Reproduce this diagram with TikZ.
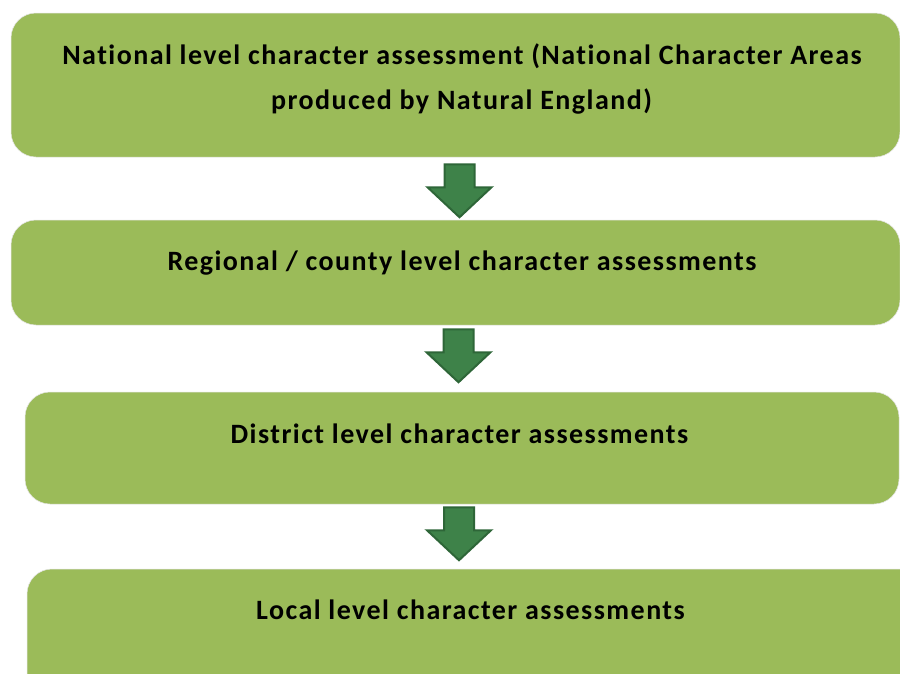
\documentclass[tikz,border=0pt]{standalone}
\usepackage{fontspec}
\setmainfont{Carlito}[Ligatures={NoCommon}, LetterSpace=5.2]
\usetikzlibrary{calc}
\definecolor{boxgreen}{HTML}{9BBB59}
\definecolor{arrowfill}{HTML}{3E8249}
\definecolor{arrowline}{HTML}{2E6638}
\tikzset{
  levelbox/.style={rectangle, rounded corners=25pt, fill=boxgreen, draw=black!10, line width=0.5pt, inner sep=0pt},
  leveltext/.style={anchor=base, font=\bfseries\fontsize{28}{32}\selectfont, text=black, inner sep=0pt},
  blockarrow/.pic={
    \path[fill=arrowfill, draw=arrowline, line width=2pt, line join=miter]
      (-15,0) -- (15,0) -- (15,23) -- (32,23) -- (0,53) -- (-32,23) -- (-15,23) -- cycle;
  }
}
\begin{document}
\begin{tikzpicture}[x=1pt, y=-1pt]
\useasboundingbox (0,0) rectangle (900,673);
\clip (0,0) rectangle (900,673);
\fill[white] (0,0) rectangle (900,673);
% boxes
\node[levelbox, minimum width=889pt, minimum height=144pt] (b1) at (455.5,85) {};
\node[levelbox, minimum width=889pt, minimum height=105pt] (b2) at (455.5,272.5) {};
\node[levelbox, minimum width=874pt, minimum height=112pt] (b3) at (462,448) {};
\node[levelbox, minimum width=903pt, minimum height=140pt] (b4) at (478.5,639) {};
% texts
\node[leveltext] (t1a) at (462,64) {National level character assessment (National Character Areas};
\node[leveltext] (t1b) at (461.5,109) {produced by Natural England)};
\node[leveltext] (t2) at (462,270) {Regional / county level character assessments};
\node[leveltext] (t3) at (459.5,443) {District level character assessments};
\node[leveltext] (t4) at (470.5,619) {Local level character assessments};
% arrows
\coordinate (a1) at ($(b1.south)+(4,7)$);
\coordinate (a2) at ($(b2.south)+(3,4)$);
\coordinate (a3) at ($(b3.south)+(-3,3)$);
\pic at (a1) {blockarrow};
\pic at (a2) {blockarrow};
\pic at (a3) {blockarrow};
\end{tikzpicture}
\end{document}
